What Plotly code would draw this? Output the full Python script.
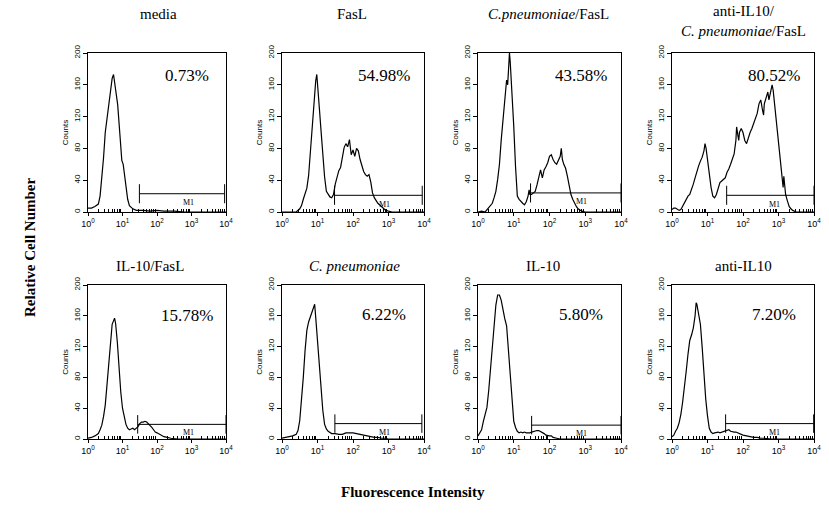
import plotly.graph_objects as go

TITLES = ["media", "FasL", "<i>C.pneumoniae</i>/FasL",
          "anti-IL10/<br><i>C. pneumoniae</i>/FasL",
          "IL-10/FasL", "<i>C. pneumoniae</i>", "IL-10", "anti-IL10"]
PERCENTS = ["0.73%", "54.98%", "43.58%", "80.52%", "15.78%", "6.22%", "5.80%", "7.20%"]

# log10 fluorescence channel / counts
LOG_MEDIA = [0.0, 0.1, 0.2, 0.3, 0.35, 0.4, 0.45, 0.5, 0.55, 0.6, 0.65, 0.7, 0.74, 0.78, 0.82, 0.86, 0.9, 0.95,
             0.98, 1.02, 1.06, 1.1, 1.15, 1.2, 1.3, 1.4, 1.6, 1.8, 2.0, 2.2, 2.5, 2.8, 4.0]
CNT_MEDIA = [5, 5, 7, 10, 20, 40, 68, 100, 116, 130, 152, 168, 173, 160, 152, 135, 112, 88,
             65, 60, 48, 30, 16, 8, 4, 2, 2, 1, 2, 1, 1, 0, 0]

LOG_FASL = [0.0, 0.4, 0.5, 0.55, 0.6, 0.7, 0.75, 0.8, 0.85, 0.9, 0.95, 0.98, 1.0, 1.05, 1.1, 1.15, 1.2, 1.25,
            1.3, 1.35, 1.4, 1.45, 1.5, 1.55, 1.6, 1.65, 1.7, 1.75, 1.8, 1.85, 1.9, 1.95, 2.0, 2.05, 2.1,
            2.15, 2.2, 2.25, 2.3, 2.35, 2.4, 2.45, 2.5, 2.55, 2.6, 2.7, 2.8, 2.9, 3.0, 3.1, 4.0]
CNT_FASL = [0, 0, 4, 8, 16, 30, 46, 76, 105, 140, 165, 173, 158, 132, 102, 72, 44, 26,
            22, 19, 18, 22, 35, 43, 52, 56, 70, 81, 86, 82, 91, 72, 78, 70, 80,
            77, 66, 58, 51, 47, 45, 47, 38, 24, 18, 11, 7, 3, 1, 0, 0]

LOG_CPN_FASL = [0.0, 0.1, 0.2, 0.3, 0.4, 0.45, 0.5, 0.55, 0.6, 0.65, 0.7, 0.75, 0.8, 0.83, 0.86, 0.88, 0.9,
                0.95, 1.0, 1.05, 1.1, 1.15, 1.2, 1.25, 1.3, 1.35, 1.4, 1.43, 1.45, 1.5, 1.55, 1.6, 1.65,
                1.7, 1.75, 1.8, 1.85, 1.9, 1.95, 2.0, 2.05, 2.1, 2.15, 2.2, 2.25, 2.3, 2.33, 2.36, 2.4,
                2.45, 2.5, 2.55, 2.6, 2.65, 2.7, 2.75, 2.8, 2.85, 2.9, 3.0, 4.0]
CNT_CPN_FASL = [0, 1, 0, 5, 11, 18, 26, 41, 60, 91, 116, 137, 166, 160, 178, 200, 190,
                154, 108, 57, 20, 16, 13, 11, 9, 13, 20, 28, 22, 22, 24, 26, 34,
                45, 53, 43, 53, 57, 62, 70, 72, 66, 62, 60, 66, 70, 80, 66, 60,
                55, 45, 32, 22, 16, 11, 7, 4, 2, 1, 0, 0]

LOG_ANTI_CPN_FASL = [0.0, 0.05, 0.1, 0.15, 0.2, 0.25, 0.3, 0.35, 0.4, 0.45, 0.5, 0.55, 0.6, 0.65, 0.7, 0.75,
                     0.8, 0.85, 0.9, 0.93, 0.96, 1.0, 1.05, 1.1, 1.15, 1.2, 1.25, 1.3, 1.35, 1.4, 1.45, 1.5,
                     1.55, 1.6, 1.65, 1.7, 1.75, 1.8, 1.82, 1.85, 1.88, 1.9, 1.95, 2.0, 2.05, 2.1, 2.15,
                     2.2, 2.25, 2.3, 2.35, 2.4, 2.45, 2.5, 2.55, 2.58, 2.6, 2.65, 2.7, 2.73, 2.78, 2.82,
                     2.85, 2.9, 2.95, 3.0, 3.05, 3.1, 3.13, 3.15, 3.2, 3.25, 3.3, 3.35, 3.4, 3.5, 4.0]
CNT_ANTI_CPN_FASL = [3, 5, 5, 3, 2, 3, 7, 11, 16, 20, 22, 28, 35, 43, 52, 58,
                     64, 69, 77, 86, 80, 64, 43, 31, 20, 18, 22, 31, 37, 39, 41, 43,
                     50, 54, 60, 67, 73, 90, 107, 98, 90, 100, 105, 100, 90, 86, 94,
                     100, 105, 111, 117, 124, 136, 141, 128, 122, 136, 145, 151, 141, 151, 160,
                     153, 132, 107, 86, 60, 43, 31, 45, 22, 14, 7, 4, 2, 0, 0]

LOG_IL10_FASL = [0.0, 0.1, 0.2, 0.3, 0.35, 0.4, 0.45, 0.5, 0.55, 0.6, 0.65, 0.7, 0.77, 0.8, 0.85, 0.9, 0.95,
                 1.0, 1.05, 1.1, 1.15, 1.2, 1.25, 1.3, 1.35, 1.4, 1.45, 1.5, 1.55, 1.6, 1.65, 1.7, 1.75,
                 1.8, 1.85, 1.9, 1.95, 2.0, 2.1, 2.2, 2.3, 2.4, 2.6, 4.0]
CNT_IL10_FASL = [1, 2, 4, 7, 12, 18, 29, 44, 70, 100, 130, 149, 157, 150, 126, 91, 61,
                 40, 27, 19, 14, 12, 13, 14, 12, 14, 16, 20, 22, 22, 23, 22, 20,
                 18, 15, 12, 9, 8, 5, 3, 2, 1, 0, 0]

LOG_CPN = [0.0, 0.1, 0.2, 0.3, 0.4, 0.45, 0.5, 0.55, 0.6, 0.65, 0.7, 0.75, 0.8, 0.85, 0.92, 0.95, 1.0,
           1.05, 1.1, 1.15, 1.2, 1.25, 1.3, 1.35, 1.4, 1.5, 1.6, 1.7, 1.8, 1.9, 2.0, 2.1, 2.2, 2.3,
           2.4, 2.5, 2.6, 2.7, 2.8, 2.9, 3.0, 4.0]
CNT_CPN = [1, 2, 3, 4, 6, 11, 24, 50, 80, 115, 141, 152, 158, 164, 175, 158, 128,
           93, 63, 37, 19, 13, 10, 9, 7, 7, 6, 6, 8, 8, 8, 7, 6, 5,
           4, 3, 2, 2, 1, 1, 0, 0]

LOG_IL10 = [0.0, 0.05, 0.1, 0.15, 0.2, 0.25, 0.3, 0.35, 0.4, 0.45, 0.5, 0.55, 0.6, 0.65, 0.7, 0.75, 0.8,
            0.85, 0.9, 0.95, 1.0, 1.05, 1.1, 1.15, 1.2, 1.25, 1.3, 1.35, 1.4, 1.45, 1.5, 1.55, 1.6,
            1.65, 1.7, 1.75, 1.8, 1.85, 1.9, 1.95, 2.0, 2.05, 2.1, 2.2, 2.3, 4.0]
CNT_IL10 = [4, 8, 12, 23, 32, 41, 63, 90, 116, 147, 174, 187, 187, 180, 165, 156, 147,
            116, 76, 45, 23, 15, 10, 8, 9, 8, 9, 8, 8, 8, 9, 10, 11,
            11, 11, 10, 9, 7, 5, 4, 4, 4, 2, 1, 0, 0]

LOG_ANTI_IL10 = [0.0, 0.05, 0.1, 0.15, 0.2, 0.25, 0.3, 0.35, 0.4, 0.45, 0.5, 0.55, 0.6, 0.65, 0.68, 0.7,
                 0.75, 0.8, 0.85, 0.9, 0.95, 1.0, 1.05, 1.1, 1.15, 1.2, 1.25, 1.3, 1.35, 1.4, 1.45, 1.5,
                 1.55, 1.6, 1.65, 1.7, 1.75, 1.8, 1.85, 1.9, 2.0, 2.1, 2.2, 2.3, 2.4, 2.5, 2.6, 2.8, 4.0]
CNT_ANTI_IL10 = [3, 5, 10, 14, 21, 32, 48, 66, 88, 110, 128, 135, 144, 160, 177, 175,
                 164, 149, 119, 84, 52, 30, 14, 9, 7, 8, 9, 9, 8, 9, 9, 10,
                 11, 12, 10, 9, 9, 9, 8, 6, 5, 4, 3, 2, 2, 1, 1, 0, 0]

LOGS = [LOG_MEDIA, LOG_FASL, LOG_CPN_FASL, LOG_ANTI_CPN_FASL,
        LOG_IL10_FASL, LOG_CPN, LOG_IL10, LOG_ANTI_IL10]
COUNTS = [CNT_MEDIA, CNT_FASL, CNT_CPN_FASL, CNT_ANTI_CPN_FASL,
          CNT_IL10_FASL, CNT_CPN, CNT_IL10, CNT_ANTI_IL10]

# M1 gate (log10 start, log10 end, count level)
GATE_START = [1.49, 1.48, 1.47, 1.54, 1.44, 1.49, 1.50, 1.51]
GATE_END = [3.96, 3.95, 4.0, 4.0, 4.0, 3.94, 4.0, 3.99]
GATE_LEVEL = [23, 21, 24, 21, 19, 20, 18, 20]

XTICK_VALS = [1, 10, 100, 1000, 10000]
XTICK_TEXT = ["10<sup>0</sup>", "10<sup>1</sup>", "10<sup>2</sup>", "10<sup>3</sup>", "10<sup>4</sup>"]
YTICK_VALS = [0, 40, 80, 120, 160, 200]

W, H = 829, 516
COLS = [(88, 226), (282, 424), (478, 621), (672, 814)]
ROWS = [(53, 212), (285, 439)]
PCT_Y = [172, 172, 172, 172, 160, 162, 162, 162]
TITLE_Y = [14, 14, 14, 21, 266, 266, 266, 266]
TITLE_X = [158, 352, 548, 743, 150, 354, 543, 743]


def px(x):
    return x / W


def py(y):
    return 1 - y / H


SERIF = "Liberation Serif, Times New Roman, serif"
SANS = "Liberation Sans, Arial, sans-serif"

fig = go.Figure()
layout = dict(width=W, height=H, margin=dict(l=0, r=0, t=0, b=0, autoexpand=False),
              paper_bgcolor="white", plot_bgcolor="white", showlegend=False)
annotations = []
minor_vals = [m * 10 ** d for d in range(4) for m in range(2, 10)]

for i in range(8):
    r, c = divmod(i, 4)
    n = "" if i == 0 else str(i + 1)
    xa, ya = "x" + n, "y" + n
    x0, x1 = COLS[c]
    y0, y1 = ROWS[r]
    layout["xaxis" + n] = dict(
        type="log", range=[0, 4], domain=[px(x0), px(x1)], anchor=ya, automargin=False,
        showline=True, linecolor="black", linewidth=1, mirror=True, showgrid=False, zeroline=False,
        tickmode="array", tickvals=XTICK_VALS, ticktext=XTICK_TEXT,
        ticks="outside", ticklen=3, tickcolor="black",
        minor=dict(tickmode="array", tickvals=minor_vals, ticks="inside", ticklen=3, tickcolor="black"),
        tickfont=dict(family=SANS, size=9, color="black"))
    layout["yaxis" + n] = dict(
        range=[0, 200], domain=[py(y1), py(y0)], anchor=xa, automargin=False,
        showline=True, linecolor="black", linewidth=1, mirror=True, showgrid=False, zeroline=False,
        tickmode="array", tickvals=YTICK_VALS, tickangle=-90,
        ticks="outside", ticklen=4, tickcolor="black",
        tickfont=dict(family=SANS, size=8, color="black"),
        title=dict(text="Counts", font=dict(family=SANS, size=8, color="black"), standoff=2))

    fig.add_trace(go.Scatter(x=[10 ** v for v in LOGS[i]], y=COUNTS[i], xaxis=xa, yaxis=ya,
                             mode="lines", line=dict(color="black", width=1.2), hoverinfo="skip"))
    gs, ge, gl = 10 ** GATE_START[i], 10 ** GATE_END[i], GATE_LEVEL[i]
    fig.add_trace(go.Scatter(x=[gs, gs, None, gs, ge, None, ge, ge],
                             y=[gl - 12, gl + 12, None, gl, gl, None, gl - 12, gl + 12],
                             xaxis=xa, yaxis=ya, mode="lines",
                             line=dict(color="black", width=1), hoverinfo="skip"))
    annotations.append(dict(x=2.9, y=gl - 11, xref=xa, yref=ya, text="M1", showarrow=False,
                            xanchor="center", font=dict(family=SERIF, size=8, color="black")))
    annotations.append(dict(x=2.87, y=PCT_Y[i], xref=xa, yref=ya, text=PERCENTS[i], showarrow=False,
                            xanchor="center", font=dict(family=SERIF, size=17, color="black")))
    annotations.append(dict(x=px(TITLE_X[i]), y=py(TITLE_Y[i]), xref="paper", yref="paper",
                            text=TITLES[i], showarrow=False, xanchor="center", yanchor="middle",
                            font=dict(family=SERIF, size=15, color="black")))

annotations.append(dict(x=px(30), y=py(248), xref="paper", yref="paper",
                        text="<b>Relative Cell Number</b>", textangle=-90, showarrow=False,
                        xanchor="center", yanchor="middle",
                        font=dict(family=SERIF, size=15, color="black")))
annotations.append(dict(x=px(413), y=py(492), xref="paper", yref="paper",
                        text="<b>Fluorescence Intensity</b>", showarrow=False,
                        xanchor="center", yanchor="middle",
                        font=dict(family=SERIF, size=15, color="black")))
layout["annotations"] = annotations
fig.update_layout(**layout)
# remove the default page margin so the figure fills the window exactly
fig.write_html("out.html", config={"displayModeBar": False},
               post_script="document.body.style.margin='0';document.body.style.overflow='hidden';")
